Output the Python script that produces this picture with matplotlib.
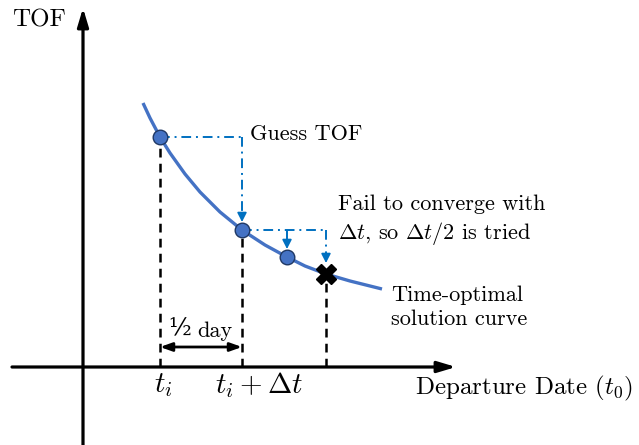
import numpy as np
import matplotlib.pyplot as plt

plt.rcParams['font.family'] = ['cmr10', 'DejaVu Serif']
plt.rcParams['mathtext.fontset'] = 'cm'
plt.rcParams['axes.formatter.use_mathtext'] = True

# schematic curve (departure date vs TOF)
curve_x = [60, 67, 77, 87, 102, 117, 137, 159, 182, 204, 222, 243, 267, 299]
curve_y = [264, 249, 230, 214, 193, 175, 155, 137, 122, 110, 101, 93, 86, 78]

# converged points and the failed one
pts_x = [77, 159, 204]
pts_y = [230, 137, 110]
fail_x = 243
fail_y = 93

tick_pos = [77, 159]
tick_labels = [r'$t_i$', r'$t_i + \Delta t$']

blue = '#4472C4'
arrow_blue = '#0070C0'
dashdot = (0, (5, 2.5, 1, 2.5))

fig = plt.figure(figsize=(6.39, 4.45), dpi=100)
ax = fig.add_axes([0, 0, 1, 1])
ax.set_xlim(-83, 556)
ax.set_ylim(-78, 367)
ax.axis('off')

# axes with arrows
ax.annotate('', xy=(0, 359), xytext=(0, -78),
            arrowprops=dict(arrowstyle='-|>,head_length=1.1,head_width=0.33',
                            color='black', lw=2.3, shrinkA=0, shrinkB=0))
ax.annotate('', xy=(373, 0), xytext=(-71, 0),
            arrowprops=dict(arrowstyle='-|>,head_length=1.1,head_width=0.33',
                            color='black', lw=2.3, shrinkA=0, shrinkB=0))

# black dashed drop lines
for xv, yv in zip(pts_x[:2] + [fail_x], pts_y[:2] + [fail_y]):
    ax.plot([xv, xv], [0, yv], color='black', lw=1.8, ls=(0, (3.5, 2.5)), zorder=2)

# curve
ax.plot(curve_x, curve_y, color=blue, lw=2.4, solid_capstyle='butt', zorder=3)


def blue_drop(x, y0, tip):
    ax.plot([x, x], [y0, tip + 7], color=arrow_blue, lw=1.4, ls=dashdot, zorder=4)
    ax.annotate('', xy=(x, tip), xytext=(x, tip + 8),
                arrowprops=dict(arrowstyle='-|>,head_length=0.55,head_width=0.28',
                                color=arrow_blue, lw=1.2, shrinkA=0, shrinkB=0), zorder=4)


# first step: guess TOF
ax.plot([pts_x[0], pts_x[1]], [pts_y[0], pts_y[0]], color=arrow_blue, lw=1.4,
        ls=dashdot, zorder=4)
blue_drop(pts_x[1], pts_y[0], pts_y[1] + 8)

# second step: full and half step
ax.plot([pts_x[1], fail_x], [pts_y[1], pts_y[1]], color=arrow_blue, lw=1.4,
        ls=dashdot, zorder=4)
blue_drop(pts_x[2], pts_y[1], pts_y[2] + 8)
blue_drop(fail_x, pts_y[1], fail_y + 11)

ax.plot(pts_x, pts_y, 'o', ms=10.5, mfc=blue, mec='#1F3864', mew=1.0, zorder=5)
ax.plot([fail_x], [fail_y], 'X', ms=14, mfc='black', mec='black', zorder=5)

# half day double arrow
ax.annotate('', xy=(tick_pos[1], 20), xytext=(tick_pos[0], 20),
            arrowprops=dict(arrowstyle='<|-|>,head_length=0.7,head_width=0.25',
                            color='black', lw=2, shrinkA=0, shrinkB=0))
ax.text(108, 38, '½', fontsize=17, ha='right', va='center', family='DejaVu Serif')
ax.text(114, 36, 'day', fontsize=16, ha='left', va='center')

for xp, lab, dx in zip(tick_pos, tick_labels, [3, 17]):
    ax.text(xp + dx, -18, lab, fontsize=21, ha='center', va='center')

ax.text(-71, 347, 'TOF', fontsize=18, ha='left', va='center')
ax.text(332, -21, r'Departure Date ($t_\mathbf{0}$)', fontsize=18, ha='left', va='center')
ax.text(167, 233, 'Guess TOF', fontsize=16, ha='left', va='center')
ax.text(255, 146, 'Fail to converge with\n' + r'$\Delta t$, so $\Delta t/2$ is tried',
        fontsize=16, ha='left', va='center', linespacing=1.3)
ax.text(308, 60, 'Time-optimal\nsolution curve', fontsize=16, ha='left', va='center',
        linespacing=1.3)

fig.savefig('out.png', dpi=100)
